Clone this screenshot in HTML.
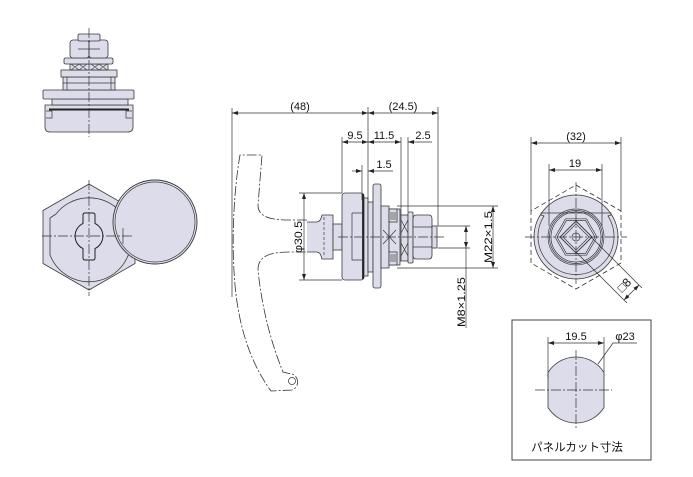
<!DOCTYPE html>
<html><head><meta charset="utf-8"><style>
html,body{margin:0;padding:0;background:#fff;}
svg{display:block;}
text{font-family:"Liberation Sans","Noto Sans CJK JP",sans-serif;font-size:11px;fill:#111;}
</style></head><body>
<svg width="693" height="477" viewBox="0 0 693 477" xmlns="http://www.w3.org/2000/svg">
<defs>
<marker id="a" viewBox="0 0 6 4" refX="6" refY="2" markerWidth="6" markerHeight="4" orient="auto-start-reverse" markerUnits="userSpaceOnUse"><path d="M0,0 L6,2 L0,4 Z" fill="#222"/></marker>
</defs>

<!-- ===== Top-left side view ===== -->
<g fill="#dcdcea" stroke="#3a3a3a" stroke-width="0.8">
  <path d="M45,105 H133 V127 Q133,132 128,132 H50 Q45,132 45,127 Z"/>
  <rect x="52" y="99" width="76" height="6"/>
  <rect x="43" y="90" width="91" height="9" rx="1"/>
  <rect x="63" y="77" width="52" height="13"/>
  <rect x="61" y="70" width="56" height="7"/>
  <rect x="70" y="64" width="38" height="6"/>
  <rect x="64" y="58" width="49" height="6" rx="1.5"/>
  <rect x="70" y="40" width="19" height="18" rx="3"/>
  <rect x="89" y="40" width="19" height="18" rx="3"/>
  <rect x="78" y="34" width="22" height="7" rx="1.5"/>
</g>
<g fill="none" stroke="#3a3a3a" stroke-width="0.7">
  <line x1="67" y1="77" x2="67" y2="90"/><line x1="111" y1="77" x2="111" y2="90"/>
  <line x1="63" y1="83" x2="115" y2="83"/>
  <path d="M71,64 L79,70 M79,64 L71,70 M79,64 L87,70 M87,64 L79,70 M91,64 L99,70 M99,64 L91,70 M99,64 L107,70 M107,64 L99,70"/>
  <path d="M46,111 H52 V118 H46 M132,111 H126 V118 H132"/>
  <line x1="78" y1="49" x2="100" y2="49"/>
</g>
<line x1="49" y1="109.5" x2="129" y2="109.5" stroke="#222" stroke-width="2"/>
<line x1="89" y1="28" x2="89" y2="137" stroke="#333" stroke-width="0.7" stroke-dasharray="10,2,2,2"/>

<!-- ===== Left front view ===== -->
<polygon points="89,184 135,210.5 135,263.5 89,290 43,263.5 43,210.5" fill="#dcdcea" stroke="#3a3a3a" stroke-width="0.8"/>
<path d="M56,214 L50,218 L50,255 A42,42 0 1 0 56,214 Z" fill="none" stroke="#3a3a3a" stroke-width="0.8"/>
<path d="M83,215 Q83,213 85,213 H93 Q95,213 95,215 V223.4 A14,14 0 0 1 95,248.6 V258 Q95,260 93,260 H85 Q83,260 83,258 V248.6 A14,14 0 0 1 83,223.4 Z" fill="none" stroke="#222" stroke-width="1"/>
<circle cx="155" cy="222" r="42" fill="#dcdcea" stroke="#3a3a3a" stroke-width="0.9"/>
<circle cx="155" cy="222" r="40" fill="none" stroke="#3a3a3a" stroke-width="0.7"/>
<g stroke="#333" stroke-width="0.7" stroke-dasharray="10,2,2,2" fill="none">
  <line x1="42" y1="236" x2="132" y2="236"/>
  <line x1="89" y1="180" x2="89" y2="296"/>
</g>
<line x1="123" y1="228" x2="123" y2="244" stroke="#333" stroke-width="0.7"/>

<!-- ===== Middle view: handle ===== -->
<g fill="none" stroke="#333" stroke-width="0.8" stroke-dasharray="10,2,2,2">
  <path d="M307,220 L290,220 C268,220 258,216 258,205 L262,155 L240,155 C234,190 231,240 235,285 C239,330 252,365 271,391 L292,390 A8.5,8.5 0 0 0 289,373.5 L283,372 C272,345 262,310 258,270 C258,257 268,252 290,252 L307,252"/>
</g>
<circle cx="292" cy="381" r="3.5" fill="none" stroke="#333" stroke-width="0.7"/>

<!-- ===== Middle view: body ===== -->
<g fill="#dcdcea" stroke="#3a3a3a" stroke-width="0.8">
  <path d="M307,222 H316 C320,222 321,219 322,215 H333 V259 H322 C321,255 320,252 316,252 H307"/>
  <rect x="333" y="224" width="9" height="26"/>
  <rect x="342" y="193" width="22" height="87" rx="3"/>
  <rect x="364" y="198" width="4" height="78"/>
  <rect x="368" y="202" width="5" height="70"/>
  <rect x="373" y="184" width="8" height="104" rx="2"/>
  <rect x="381" y="206" width="8" height="62"/>
  <rect x="389" y="209" width="11" height="56"/>
  <rect x="389" y="209" width="8" height="13"/>
  <rect x="389" y="252" width="8" height="13"/>
  <rect x="401" y="215" width="7" height="46"/>
  <rect x="408" y="212" width="5" height="51" rx="1"/>
  <path d="M416,215 H429 Q432,215 432,219 V255 Q432,259 429,259 H416 Q413,259 413,255 V219 Q413,215 416,215 Z"/>
  <rect x="432" y="226" width="5" height="22"/>
</g>
<g fill="none" stroke="#3a3a3a" stroke-width="0.7">
  <path d="M352,213 H362 M352,213 V260 H362"/>
  <line x1="324" y1="217" x2="324" y2="257" stroke-dasharray="3,2"/>
  <path d="M383,230 L396,244 M396,230 L383,244"/>
  <path d="M401,220 L408,233 M408,220 L401,233 M401,243 L408,256 M408,243 L401,256"/>
  <path d="M413,227 H432 M413,247 H432"/>
  <path d="M391,212 V220 M393,212 V220 M395,212 V220 M391,254 V262 M393,254 V262 M395,254 V262"/>
</g>
<line x1="363" y1="194" x2="363" y2="279" stroke="#222" stroke-width="1.8"/>
<line x1="338" y1="237" x2="446" y2="237" stroke="#333" stroke-width="0.7" stroke-dasharray="10,2,2,2"/>

<!-- Middle dimensions -->
<g stroke="#333" stroke-width="0.7" fill="none">
  <line x1="232" y1="108" x2="232" y2="297"/>
  <line x1="368" y1="107" x2="368" y2="200"/>
  <line x1="438" y1="107" x2="438" y2="226"/>
  <line x1="342" y1="137" x2="342" y2="193"/>
  <line x1="362" y1="165" x2="362" y2="200"/>
  <line x1="401" y1="137" x2="401" y2="215"/>
  <line x1="408" y1="137" x2="408" y2="212"/>
  <line x1="232" y1="113" x2="368" y2="113" marker-start="url(#a)" marker-end="url(#a)"/>
  <line x1="368" y1="113" x2="438" y2="113" marker-start="url(#a)" marker-end="url(#a)"/>
  <line x1="342" y1="142" x2="368" y2="142" marker-start="url(#a)" marker-end="url(#a)"/>
  <line x1="368" y1="142" x2="401" y2="142" marker-start="url(#a)" marker-end="url(#a)"/>
  <line x1="432" y1="142" x2="408" y2="142" marker-end="url(#a)"/>
  <line x1="352" y1="171" x2="362" y2="171" marker-end="url(#a)"/>
  <line x1="393" y1="171" x2="368" y2="171" marker-end="url(#a)"/>
  <line x1="299" y1="193" x2="342" y2="193"/>
  <line x1="299" y1="280" x2="342" y2="280"/>
  <line x1="304" y1="193" x2="304" y2="280" marker-start="url(#a)" marker-end="url(#a)"/>
  <line x1="397" y1="206" x2="498" y2="206"/>
  <line x1="397" y1="268" x2="498" y2="268"/>
  <line x1="493" y1="206" x2="493" y2="268" marker-start="url(#a)" marker-end="url(#a)"/>
  <line x1="438" y1="226" x2="470" y2="226"/>
  <line x1="438" y1="248" x2="470" y2="248"/>
  <line x1="466" y1="226" x2="466" y2="248" marker-start="url(#a)" marker-end="url(#a)"/>
  <line x1="466" y1="248" x2="466" y2="328"/>
</g>
<g text-anchor="middle">
  <text x="300" y="110">(48)</text>
  <text x="403" y="110">(24.5)</text>
  <text x="355" y="139">9.5</text>
  <text x="384" y="139">11.5</text>
  <text x="423" y="139">2.5</text>
  <text x="384" y="168">1.5</text>
  <text transform="translate(302,237) rotate(-90)" textLength="32" lengthAdjust="spacingAndGlyphs">φ30.5</text>
  <text transform="translate(492,237) rotate(-90)" textLength="52" lengthAdjust="spacingAndGlyphs">M22×1.5</text>
  <text transform="translate(465,302) rotate(-90)" textLength="50" lengthAdjust="spacingAndGlyphs">M8×1.25</text>
</g>

<!-- ===== Right front view ===== -->
<polygon points="576,185 621,211 621,263 576,289 531,263 531,211" fill="none" stroke="#333" stroke-width="0.8" stroke-dasharray="5,3"/>
<circle cx="576" cy="237" r="42" fill="#dcdcea" stroke="#3a3a3a" stroke-width="0.8"/>
<g fill="none" stroke="#3a3a3a" stroke-width="0.7">
  <path d="M541,213 H611 L611,215 L608,216 A38,38 0 1 1 544,216 L541,215 Z"/>
  <circle cx="576" cy="237" r="28"/>
  <circle cx="576" cy="237" r="26.5"/>
  <circle cx="576" cy="237" r="25"/>
  <polygon points="597,237 586.5,255.2 565.5,255.2 555,237 565.5,218.8 586.5,218.8"/>
  <polygon points="595,237 585.5,253.5 566.5,253.5 557,237 566.5,220.5 585.5,220.5"/>
  <polygon points="576,221 592,237 576,253 560,237" stroke-width="0.9"/>
  <polygon points="576,224 589,237 576,250 563,237"/>
  <circle cx="576" cy="237" r="4"/>
</g>
<g stroke="#333" stroke-width="0.7" stroke-dasharray="10,2,2,2" fill="none">
  <line x1="525" y1="237" x2="627" y2="237"/>
  <line x1="576" y1="182" x2="576" y2="284"/>
</g>
<g stroke="#333" stroke-width="0.7" fill="none">
  <line x1="531" y1="137" x2="531" y2="211"/>
  <line x1="621" y1="137" x2="621" y2="211"/>
  <line x1="549" y1="164" x2="549" y2="226"/>
  <line x1="602" y1="164" x2="602" y2="226"/>
  <line x1="531" y1="143" x2="621" y2="143" marker-start="url(#a)" marker-end="url(#a)"/>
  <line x1="549" y1="170" x2="602" y2="170" marker-start="url(#a)" marker-end="url(#a)"/>
  <line x1="591" y1="237" x2="642" y2="288"/>
  <line x1="576" y1="252" x2="627" y2="303"/>
  <line x1="624" y1="300" x2="639" y2="285" marker-start="url(#a)" marker-end="url(#a)"/>
</g>
<g text-anchor="middle">
  <text x="576" y="140">(32)</text>
  <text x="575" y="167">19</text>
  <text transform="translate(627,288) rotate(-45)" style="font-size:12px">□8</text>
</g>

<!-- ===== Panel cut box ===== -->
<rect x="512" y="320" width="139" height="140" fill="none" stroke="#444" stroke-width="1"/>
<path d="M548,372.5 A33,33 0 0 1 604,372.5 V407.5 A33,33 0 0 1 548,407.5 Z" fill="#dcdcea" stroke="#3a3a3a" stroke-width="0.8"/>
<g stroke="#333" stroke-width="0.7" stroke-dasharray="10,2,2,2" fill="none">
  <line x1="535" y1="390" x2="612" y2="390"/>
  <line x1="576" y1="350" x2="576" y2="428"/>
</g>
<g stroke="#333" stroke-width="0.7" fill="none">
  <line x1="548" y1="337" x2="548" y2="378"/>
  <line x1="604" y1="337" x2="604" y2="372"/>
  <line x1="548" y1="343" x2="604" y2="343" marker-start="url(#a)" marker-end="url(#a)"/>
  <polyline points="598,364 613,343 637,343"/>
</g>
<g text-anchor="middle">
  <text x="576" y="340">19.5</text>
  <text x="625" y="340">φ23</text>
  <text x="577" y="451" style="font-size:11.5px">パネルカット寸法</text>
</g>
</svg>
</body></html>
